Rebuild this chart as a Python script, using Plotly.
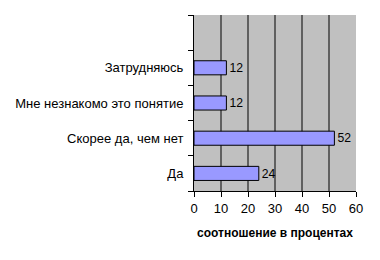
import plotly.graph_objects as go

categories = ["Да", "Скорее да, чем нет", "Мне незнакомо это понятие", "Затрудняюсь"]
values = [24, 52, 12, 12]
all_slots = categories + [" "]
x_ticks = [0, 10, 20, 30, 40, 50, 60]

fig = go.Figure(go.Bar(
    x=values, y=categories, orientation="h",
    marker=dict(color="#9999FF", line=dict(color="black", width=1)),
    width=0.4,
    text=[str(v) for v in values], textposition="outside",
    textfont=dict(family="Liberation Sans", size=13, color="black"),
    cliponaxis=False,
))

# inner vertical gridlines (none at the right edge, as in the original)
for t in x_ticks[1:-1]:
    fig.add_shape(type="line", x0=t, x1=t, xref="x", y0=0, y1=1, yref="paper",
                  line=dict(color="black", width=1), layer="below")

fig.update_layout(
    width=380, height=260,
    margin=dict(l=194, r=24, t=15, b=69),
    paper_bgcolor="white", plot_bgcolor="#C0C0C0",
    showlegend=False,
    font=dict(family="Liberation Sans", size=13, color="black"),
)
fig.update_xaxes(
    range=[0, 60], tickvals=x_ticks, ticktext=[str(t) for t in x_ticks],
    showgrid=False,
    showline=True, linecolor="black", linewidth=1,
    ticks="outside", ticklen=5, tickcolor="black",
    zeroline=False,
    tickfont=dict(size=13),
    title=dict(text="<b>соотношение в процентах</b>", font=dict(size=12), standoff=14),
)
fig.update_yaxes(
    type="category", categoryorder="array", categoryarray=all_slots,
    range=[-0.5, 4.5], tickson="boundaries",
    showline=True, linecolor="black", linewidth=1,
    ticks="outside", ticklen=5, tickcolor="black",
    ticklabelstandoff=7,
    showgrid=False, tickfont=dict(size=13),
)

fig.write_html("out.html")
